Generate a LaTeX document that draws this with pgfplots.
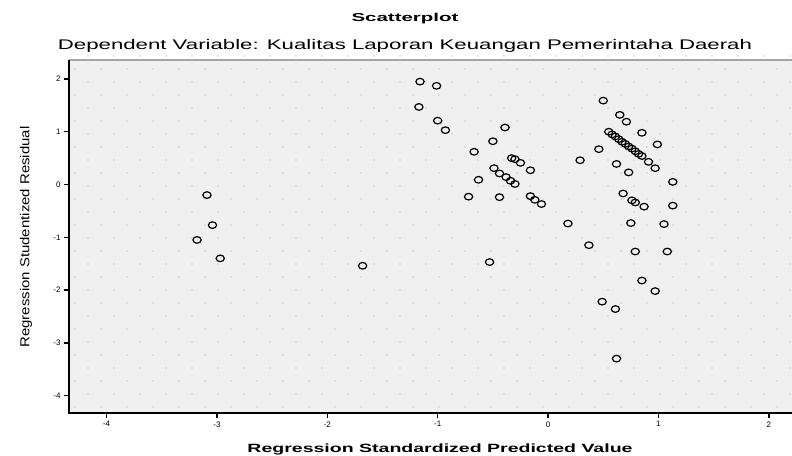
\documentclass[border=0pt]{standalone}
\usepackage{pgfplots}
\pgfplotsset{compat=1.18}
\usepackage{graphicx}
\usepackage{fontspec}
\setmainfont{Liberation Sans}

\begin{document}
\begin{tikzpicture}[x=1bp,y=1bp]
\useasboundingbox (-69,-43) rectangle (723,413);
% plot area background and frame
\fill[gray!12] (0,0) rectangle (723,353);
\foreach \i in {0,...,27}{
  \foreach \j in {0,...,13}{
    \fill[violet!25] (\i*26+6,\j*26+6) circle (0.8);
    \fill[violet!25] (\i*26+19,\j*26+19) circle (0.8);
  }
}
\draw[gray!70, line width=1.5bp] (0,353) -- (723,353);
\draw[black, line width=2bp] (0,353) -- (0,0) -- (723,0);
\foreach \v in {-4,...,2}{
  \draw[black, line width=1.4bp] ({(\v+4.34)*110.38},0) -- ++(0,-5);
  \draw[black, line width=1.4bp] (0,{(\v+4.33)*52.765}) -- ++(-5,0);
}
\begin{axis}[
    at={(0,0)}, anchor=south west,
    scale only axis,
    width=723bp, height=353bp,
    xmin=-4.34, xmax=2.21,
    ymin=-4.33, ymax=2.36,
    xtick={-4,-3,-2,-1,0,1,2},
    ytick={-4,-3,-2,-1,0,1,2},
    axis x line*=bottom,
    axis y line*=left,
    axis line style={draw=none},
    major tick length=0pt,
    xticklabel style={yshift=-5bp},
    yticklabel style={xshift=-5bp},
    tick label style={font=\fontsize{8}{8}\selectfont},
    /pgf/number format/assume math mode=true,
    clip=false,
]
\addplot[only marks, mark=o, mark size=3.3bp,
         mark options={xscale=1.25, line width=1.2bp, draw=black}] coordinates {
    (-3.09,-0.20) (-3.04,-0.77) (-3.18,-1.05) (-2.97,-1.40) (-1.68,-1.54)
    (-1.16,1.95) (-1.01,1.87) (-1.17,1.47) (-1.00,1.21) (-0.93,1.03)
    (-0.39,1.08) (-0.50,0.82) (-0.67,0.62) (-0.33,0.50) (-0.30,0.48)
    (-0.25,0.41) (-0.16,0.27) (-0.49,0.31) (-0.44,0.21) (-0.38,0.14)
    (-0.34,0.07) (-0.30,0.01) (-0.63,0.09) (-0.72,-0.23) (-0.44,-0.24)
    (-0.16,-0.22) (-0.12,-0.29) (-0.06,-0.37) (0.18,-0.74) (-0.53,-1.47)
    (0.29,0.46) (0.50,1.59) (0.65,1.32) (0.71,1.19) (0.85,0.98)
    (0.99,0.76) (0.55,1.00) (0.58,0.95) (0.61,0.91) (0.64,0.86)
    (0.67,0.81) (0.70,0.77) (0.73,0.72) (0.76,0.68) (0.79,0.63)
    (0.82,0.58) (0.85,0.54) (0.91,0.43) (0.97,0.31) (0.46,0.67)
    (0.62,0.39) (0.73,0.23) (1.13,0.05) (0.68,-0.17) (0.76,-0.30)
    (0.79,-0.34) (0.87,-0.42) (1.13,-0.40) (0.75,-0.73) (1.05,-0.75)
    (0.37,-1.15) (0.79,-1.27) (1.08,-1.27) (0.85,-1.82) (0.97,-2.02)
    (0.49,-2.22) (0.61,-2.36) (0.62,-3.30)
};
\end{axis}
\node at (336,394) {\resizebox{107bp}{\height}{\fontsize{11.5}{12}\selectfont\bfseries Scatterplot}};
\node at (336,367) {\resizebox{694bp}{\height}{\fontsize{14}{14}\selectfont Dependent Variable: Kualitas Laporan Keuangan Pemerintaha Daerah}};
\node at (371,-36) {\resizebox{385bp}{\height}{\fontsize{12}{12}\selectfont\bfseries Regression Standardized Predicted Value}};
\node[rotate=90] at (-43,176) {\resizebox{221bp}{\height}{\fontsize{13}{13}\selectfont Regression Studentized Residual}};
\end{tikzpicture}
\end{document}
